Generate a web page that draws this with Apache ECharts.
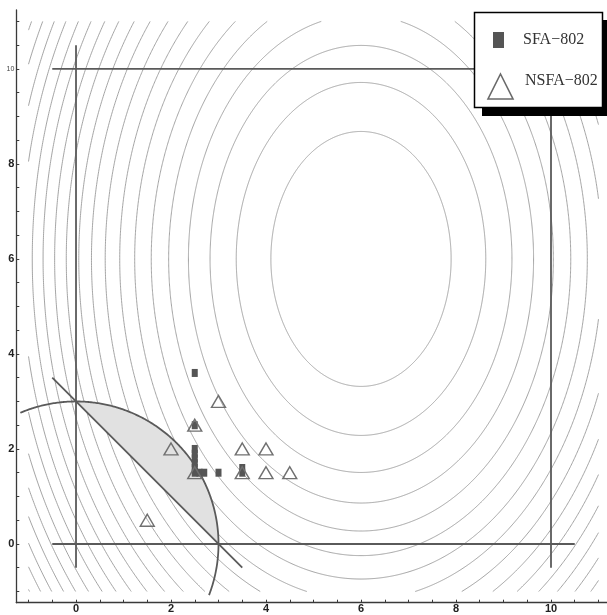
<!DOCTYPE html>
<html>
<head>
<meta charset="utf-8">
<script src="https://cdn.jsdelivr.net/npm/echarts@6/dist/echarts.min.js"></script>
<style>
  html, body { margin: 0; padding: 0; background: #fff; }
  #chart { width: 607px; height: 615px; }
</style>
</head>
<body>
<div id="chart"></div>
<script>
// Sampled solutions of the two methods
const sfaPoints = [
  [2.5, 3.6], [2.5, 2.5],
  [2.5, 2.0], [2.5, 1.9], [2.5, 1.8], [2.5, 1.7], [2.5, 1.6], [2.5, 1.5],
  [2.6, 1.5], [2.7, 1.5], [3.0, 1.5], [3.5, 1.6], [3.5, 1.5]
];
const nsfaPoints = [
  [1.5, 0.5], [2.0, 2.0], [2.5, 2.5], [3.0, 3.0], [2.5, 1.5],
  [3.5, 2.0], [3.5, 1.5], [4.0, 2.0], [4.0, 1.5], [4.5, 1.5]
];

// Objective f(x, y) = (x - 6)^2 + (y - 6)^2 / 2 and the levels that are drawn
const contourLevels = [3.6, 6.9, 10.1, 13.2, 16.4, 19.5, 22.7, 25.8, 29.0, 32.2, 35.3, 38.5,
                       41.6, 44.8, 47.9, 51.1, 54.2, 57.4, 60.6, 63.7, 66.9, 70.0, 73.2];
const contourCenter = [6, 6];
const contourYScale = 2;
const contourDomain = [-1, 11];

// Constraints: box bounds, cut x + y = 3 and circle x^2 + y^2 = 9
const boundLines = [
  [[0, -0.5], [0, 10.5]],
  [[10, -0.5], [10, 10.5]],
  [[-0.5, 0], [10.5, 0]],
  [[-0.5, 10], [10.5, 10]]
];
const cutLine = [[-0.5, 3.5], [3.5, -0.5]];
const circleRadius = 3;
const circleArcDeg = [113, -21];

// Axis ticks and labels
const tickValues = [-1, -0.5, 0, 0.5, 1, 1.5, 2, 2.5, 3, 3.5, 4, 4.5, 5, 5.5, 6, 6.5,
                    7, 7.5, 8, 8.5, 9, 9.5, 10, 10.5, 11];
const xTickLabels = [0, 2, 4, 6, 8, 10];
const yTickLabels = [0, 2, 4, 6, 8, 10];
const seriesNames = ['SFA\u2212802', 'NSFA\u2212802'];

function ellipsePoint(c, t) {
  return [
    contourCenter[0] + Math.sqrt(c) * Math.cos(t),
    contourCenter[1] + Math.sqrt(c * contourYScale) * Math.sin(t)
  ];
}
function inDomain(p) {
  return p[0] >= contourDomain[0] && p[0] <= contourDomain[1] &&
         p[1] >= contourDomain[0] && p[1] <= contourDomain[1];
}
// bisect between a parameter inside the domain and one outside it
function edgePoint(c, tIn, tOut) {
  for (let k = 0; k < 40; k++) {
    const tm = (tIn + tOut) / 2;
    if (inDomain(ellipsePoint(c, tm))) tIn = tm; else tOut = tm;
  }
  return ellipsePoint(c, tIn);
}
function contourPieces(c) {
  const n = 1440;
  const pieces = [];
  let cur = null, prevT = 0, startsAtZero = false, endsAtEnd = false;
  for (let i = 0; i <= n; i++) {
    const t = i / n * 2 * Math.PI;
    const p = ellipsePoint(c, t);
    const ins = inDomain(p);
    if (ins) {
      if (!cur) {
        cur = [];
        if (i === 0) startsAtZero = true;
        else cur.push(edgePoint(c, t, prevT));
      }
      cur.push(p);
      if (i === n) endsAtEnd = true;
    } else if (cur) {
      cur.push(edgePoint(c, prevT, t));
      pieces.push(cur);
      cur = null;
    }
    prevT = t;
  }
  if (cur) pieces.push(cur);
  if (startsAtZero && endsAtEnd && pieces.length > 1) {
    const first = pieces.shift();
    const last = pieces.pop();
    pieces.push(last.concat(first.slice(1)));
  }
  return pieces;
}

const contourData = [];
contourLevels.forEach(function (c) {
  contourPieces(c).forEach(function (piece) { contourData.push({ coords: piece }); });
});

function circlePoint(deg) {
  const a = deg * Math.PI / 180;
  return [circleRadius * Math.cos(a), circleRadius * Math.sin(a)];
}
const arcCoords = [];
for (let d = circleArcDeg[0]; d >= circleArcDeg[1]; d -= 0.5) arcCoords.push(circlePoint(d));

const axisColor = '#3a3a3a';
const labelFont = { fontFamily: 'Liberation Sans', fontWeight: 'bold', fontSize: 11, color: '#222' };

const chart = echarts.init(document.getElementById('chart'), null, { renderer: 'canvas' });
chart.setOption({
  animation: false,
  backgroundColor: '#fff',
  grid: { left: 16.3, right: 0, top: 10, bottom: 12.3, containLabel: false },
  xAxis: {
    type: 'value', min: -1.257, max: 11.179,
    axisLine: { show: true, onZero: false, lineStyle: { color: axisColor, width: 1.3 } },
    splitLine: { show: false },
    axisTick: { show: true, inside: true, length: 3, customValues: tickValues,
                lineStyle: { color: axisColor, width: 1 } },
    axisLabel: Object.assign({ customValues: xTickLabels, margin: 1 }, labelFont)
  },
  yAxis: {
    type: 'value', min: -1.236, max: 11.24,
    axisLine: { show: true, onZero: false, lineStyle: { color: axisColor, width: 1.3 } },
    splitLine: { show: false },
    axisTick: { show: true, inside: true, length: 3, customValues: tickValues,
                lineStyle: { color: axisColor, width: 1 } },
    axisLabel: Object.assign({
      customValues: yTickLabels, margin: 2,
      formatter: function (v) { return v === 10 ? '{s|10}' : String(v); },
      rich: { s: { fontFamily: 'Liberation Sans', fontSize: 7, fontWeight: 'normal', color: '#444' } }
    }, labelFont)
  },
  series: [
    {
      name: 'contours', type: 'lines', coordinateSystem: 'cartesian2d', polyline: true,
      silent: true, z: 1, data: contourData,
      lineStyle: { color: '#9a9a9a', width: 0.9, opacity: 1 }
    },
    {
      name: 'feasible', type: 'custom', silent: true, z: 2, data: [[0, 0]],
      renderItem: function (params, api) {
        const pts = [];
        for (let d = 90; d >= 0; d -= 1) pts.push(api.coord(circlePoint(d)));
        return { type: 'polygon', shape: { points: pts }, style: { fill: '#e1e1e1', stroke: null } };
      }
    },
    {
      name: 'bounds', type: 'lines', coordinateSystem: 'cartesian2d', polyline: true,
      silent: true, z: 3,
      data: boundLines.map(function (s) { return { coords: s }; })
        .concat([{ coords: cutLine }, { coords: arcCoords }]),
      lineStyle: { color: '#5a5a5a', width: 1.8, opacity: 1 }
    },
    {
      name: seriesNames[0], type: 'scatter', z: 4, data: sfaPoints,
      symbol: 'rect', symbolSize: [6, 8],
      itemStyle: { color: '#555', opacity: 1 }
    },
    {
      name: seriesNames[1], type: 'scatter', z: 5, data: nsfaPoints,
      symbol: 'triangle', symbolSize: [14, 12],
      itemStyle: { color: 'rgba(0,0,0,0)', borderColor: '#707070', borderWidth: 1.4, opacity: 1 }
    }
  ],
  graphic: [
    { type: 'rect', z: 100, shape: { x: 482, y: 20, width: 130, height: 96 }, style: { fill: '#000' } },
    { type: 'rect', z: 101, shape: { x: 474.5, y: 12.5, width: 128, height: 95 },
      style: { fill: '#fff', stroke: '#000', lineWidth: 1.5 } },
    { type: 'rect', z: 102, shape: { x: 493, y: 32, width: 11, height: 16 }, style: { fill: '#555' } },
    { type: 'polygon', z: 102, shape: { points: [[500.5, 74], [513, 99], [488, 99]] },
      style: { fill: null, stroke: '#6a6a6a', lineWidth: 1.6 } },
    { type: 'text', z: 102, x: 523, y: 40,
      style: { text: seriesNames[0], font: '16px "Liberation Serif"', fill: '#333', verticalAlign: 'middle' } },
    { type: 'text', z: 102, x: 525, y: 81,
      style: { text: seriesNames[1], font: '16px "Liberation Serif"', fill: '#333', verticalAlign: 'middle' } }
  ]
});
</script>
</body>
</html>
